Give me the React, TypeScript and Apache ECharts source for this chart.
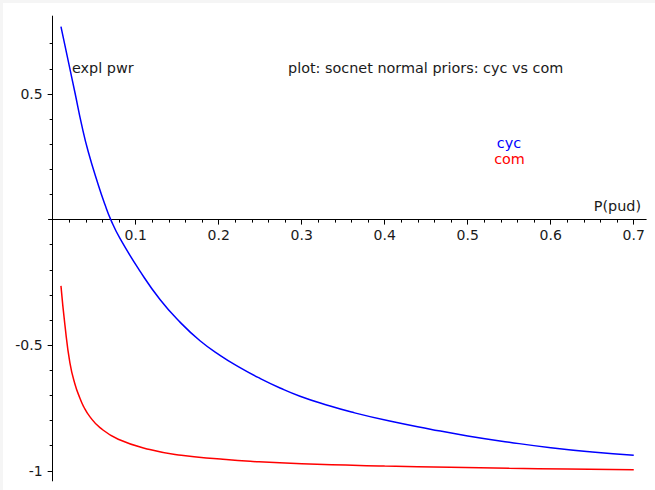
import React, { useEffect, useRef } from "react";
import * as echarts from "echarts";

// P(pud) values and explanatory power
const cycX = [0.010, 0.0208, 0.0269, 0.0349, 0.0429, 0.055, 0.063, 0.070, 0.0811, 0.1052, 0.1293, 0.1534, 0.1775, 0.2016, 0.2257, 0.2498, 0.2739, 0.298, 0.330, 0.360, 0.406, 0.455, 0.500, 0.550, 0.600, 0.650, 0.700];
const cycY = [0.768, 0.600, 0.505, 0.378, 0.270, 0.138, 0.060, 0.000, -0.075, -0.205, -0.318, -0.408, -0.482, -0.540, -0.589, -0.632, -0.670, -0.703, -0.738, -0.766, -0.802, -0.834, -0.861, -0.886, -0.908, -0.925, -0.938];

const comX = [0.010, 0.0148, 0.0208, 0.0269, 0.033, 0.037, 0.045, 0.057, 0.079, 0.117, 0.155, 0.202, 0.238, 0.300, 0.400, 0.479, 0.550, 0.620, 0.700];
const comY = [-0.264, -0.420, -0.570, -0.655, -0.712, -0.742, -0.785, -0.828, -0.874, -0.915, -0.938, -0.953, -0.962, -0.972, -0.981, -0.986, -0.990, -0.993, -0.996];

const xMajor = [0.1, 0.2, 0.3, 0.4, 0.5, 0.6, 0.7];
const xMinor = [0.02, 0.04, 0.06, 0.08, 0.12, 0.14, 0.16, 0.18, 0.22, 0.24, 0.26, 0.28, 0.32, 0.34, 0.36, 0.38, 0.42, 0.44, 0.46, 0.48, 0.52, 0.54, 0.56, 0.58, 0.62, 0.64, 0.66, 0.68];
const yMajor = [-1, -0.5, 0.5];
const yMinor = [-0.9, -0.8, -0.7, -0.6, -0.4, -0.3, -0.2, -0.1, 0.1, 0.2, 0.3, 0.4, 0.6, 0.7];

const FONT = "DejaVu Sans";
const TXT = "#1a1a1a";

export default function App() {
  const ref = useRef<HTMLDivElement>(null);
  useEffect(() => {
    document.body.style.margin = "0";
    const chart = echarts.init(ref.current!, null, { renderer: "svg" });
    const xMin = -0.005, xMax = 0.715, yMin = -1.04, yMax = 0.81;
    const L = 48.5, R = 8.8, T = 16.1, B = 9.1;
    const plotW = 655 - L - R;
    const plotH = 490 - T - B;
    const zeroX = L + ((0 - xMin) / (xMax - xMin)) * plotW;
    const zeroYFromTop = ((yMax - 0) / (yMax - yMin)) * plotH;
    const hidden = { show: false, splitLine: { show: false } };
    const labelStyle = { fontFamily: FONT, fontSize: 14, color: TXT };
    chart.setOption({
      animation: false,
      backgroundColor: "#ffffff",
      grid: [
        { left: L, right: R, top: T, bottom: B, containLabel: false, outerBoundsMode: "none" },
        { left: L, right: R, top: T, height: zeroYFromTop, containLabel: false, outerBoundsMode: "none" },
        { left: zeroX, right: R, top: T, bottom: B, containLabel: false, outerBoundsMode: "none" },
      ],
      xAxis: [
        { type: "value", gridIndex: 0, min: xMin, max: xMax, ...hidden },
        {
          type: "value", gridIndex: 1, position: "bottom", min: xMin, max: xMax,
          splitLine: { show: false },
          axisLine: { show: true, onZero: false, lineStyle: { color: "#000", width: 1 } },
          axisTick: { show: true, customValues: xMajor, length: 5, lineStyle: { color: "#000" } },
          axisLabel: {
            customValues: xMajor, margin: 8, ...labelStyle,
            formatter: (v: number) => String(Math.round(v * 10) / 10),
          },
        },
        {
          type: "value", gridIndex: 1, position: "bottom", min: xMin, max: xMax,
          splitLine: { show: false },
          axisLine: { show: false, onZero: false },
          axisTick: { show: true, customValues: xMinor, length: 3, lineStyle: { color: "#000" } },
          axisLabel: { show: false },
        },
        { type: "value", gridIndex: 2, min: 0, max: 1, ...hidden },
      ],
      yAxis: [
        { type: "value", gridIndex: 0, min: yMin, max: yMax, ...hidden },
        { type: "value", gridIndex: 1, min: 0, max: 1, ...hidden },
        {
          type: "value", gridIndex: 2, position: "left", min: yMin, max: yMax,
          splitLine: { show: false },
          axisLine: { show: true, onZero: false, lineStyle: { color: "#000", width: 1 } },
          axisTick: { show: true, customValues: yMajor, length: 5, lineStyle: { color: "#000" } },
          axisLabel: {
            customValues: yMajor, margin: 10, ...labelStyle,
            formatter: (v: number) => String(v),
          },
        },
        {
          type: "value", gridIndex: 2, position: "left", min: yMin, max: yMax,
          splitLine: { show: false },
          axisLine: { show: false, onZero: false },
          axisTick: { show: true, customValues: yMinor, length: 3, lineStyle: { color: "#000" } },
          axisLabel: { show: false },
        },
      ],
      series: [
        {
          name: "cyc",
          type: "line",
          xAxisIndex: 0,
          yAxisIndex: 0,
          data: cycX.map((x, i) => [x, cycY[i]]),
          showSymbol: false,
          smooth: 0.5,
          lineStyle: { color: "#0000ff", width: 1.5 },
          itemStyle: { color: "#0000ff" },
        },
        {
          name: "com",
          type: "line",
          xAxisIndex: 0,
          yAxisIndex: 0,
          data: comX.map((x, i) => [x, comY[i]]),
          showSymbol: false,
          smooth: 0.5,
          lineStyle: { color: "#ff0000", width: 1.5 },
          itemStyle: { color: "#ff0000" },
        },
      ],
      graphic: [
        { type: "rect", shape: { x: 0, y: 0, width: 655, height: 3 }, style: { fill: "#f5f5f5" }, silent: true },
        { type: "rect", shape: { x: 0, y: 0, width: 3, height: 490 }, style: { fill: "#f5f5f5" }, silent: true },
        {
          type: "text", x: 72, y: 68,
          style: { text: "expl pwr", font: `14.4px "${FONT}"`, fill: TXT, textAlign: "left", textVerticalAlign: "middle" },
        },
        {
          type: "text", x: 288, y: 68,
          style: { text: "plot: socnet normal priors: cyc vs com", font: `14.4px "${FONT}"`, fill: TXT, textAlign: "left", textVerticalAlign: "middle" },
        },
        {
          type: "text", x: 509, y: 143,
          style: { text: "cyc", font: `14.4px "${FONT}"`, fill: "#0000ff", textAlign: "center", textVerticalAlign: "middle" },
        },
        {
          type: "text", x: 509.5, y: 159,
          style: { text: "com", font: `14.4px "${FONT}"`, fill: "#ff0000", textAlign: "center", textVerticalAlign: "middle" },
        },
        {
          type: "text", x: 641, y: 206,
          style: { text: "P(pud)", font: `14.4px "${FONT}"`, fill: TXT, textAlign: "right", textVerticalAlign: "middle" },
        },
      ],
    });
    return () => chart.dispose();
  }, []);
  return <div ref={ref} style={{ width: 655, height: 490 }} />;
}
